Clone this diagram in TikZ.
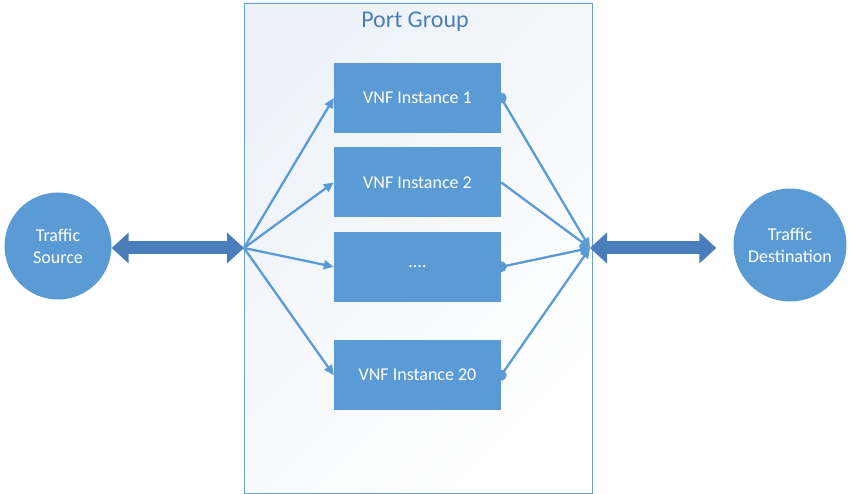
\documentclass[tikz,border=0pt]{standalone}
\usepackage{fontspec}
\setmainfont{Carlito}
\usepackage{tikz}
\usetikzlibrary{positioning,arrows.meta}
\definecolor{boxblue}{HTML}{5B9BD5}
\definecolor{pipeblue}{HTML}{4A7EBB}
\definecolor{groupline}{HTML}{6A9FD4}
\definecolor{grouptop}{HTML}{EDF2FA}

\begin{document}
\begin{tikzpicture}[x=1pt, y=-1pt, node distance=14pt,
  vnf/.style={fill=boxblue, text=white, minimum width=167pt, minimum height=70pt, inner sep=0pt, font=\fontsize{18}{22}\selectfont},
  endpoint/.style={circle, fill=boxblue, text=white, align=center, inner sep=0pt, font=\fontsize{18}{22}\selectfont},
  link/.style={boxblue, line width=2.3pt, -{Triangle[length=10pt,width=9pt]}},
  pipe/.style={pipeblue, line width=13pt, {Triangle[length=17pt,width=31pt,line width=0pt]}-{Triangle[length=17pt,width=31pt,line width=0pt]}},
  pipecore/.style={pipeblue, line width=13pt, shorten <=10pt, shorten >=10pt},
  port/.style={circle, fill=boxblue, inner sep=0pt, minimum size=11pt}]
\useasboundingbox (0,0) rectangle (855,494);
\node[draw=groupline, top color=grouptop, bottom color=white, shading angle=45, minimum width=348pt, minimum height=490pt, inner sep=0pt] (group) at (418,248) {};
\node[text=pipeblue, font=\fontsize{24}{27}\selectfont] (title) at (415,22) {Port Group};
\node[vnf] (vnf1) at (417.5,98) {VNF Instance 1};
\node[vnf, below=of vnf1] (vnf2) {VNF Instance 2};
\node[vnf, below=of vnf2] (vnf3) {....};
\node[vnf, below=38pt of vnf3] (vnf4) {VNF Instance 20};
\node[endpoint, minimum size=107pt] (source) at (58,246) {Traffic\\Source};
\node[endpoint, minimum size=113pt] (dest) at (790,245) {Traffic\\Destination};
\coordinate (fanout) at (244,248);
\coordinate (fanin) at (590,248);
\coordinate (destin) at ([xshift=-17pt]dest.west |- fanin);
% fan out / fan in
\foreach \n in {1,...,4} \draw[link] (fanout) -- (vnf\n.west);
\foreach \n in {1,...,4} \draw[link] (vnf\n.east) -- (fanin);
\foreach \n in {1,3,4} \node[port] (dot\n) at (vnf\n.east) {};
% two-way traffic
\draw[pipecore] (source.east |- fanout) -- (fanout);
\draw[pipe] (source.east |- fanout) -- (fanout);
\draw[pipecore] (fanin) -- (destin);
\draw[pipe] (fanin) -- (destin);
\end{tikzpicture}
\end{document}
